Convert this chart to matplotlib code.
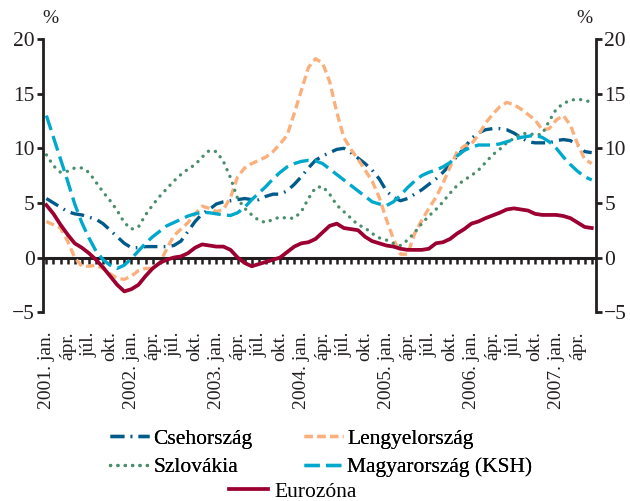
import matplotlib.pyplot as plt

plt.rcParams['font.family'] = ['Liberation Serif', 'DejaVu Serif']
plt.rcParams['lines.scale_dashes'] = False

# monthly data, 2001 jan .. 2007 jun
cseh = [5.4, 5.0, 4.6, 4.2, 4.0, 3.9, 3.7, 3.5, 3.1, 2.5, 1.9, 1.3,
        0.9, 0.9, 1.0, 1.0, 1.0, 1.0, 1.1, 1.5, 2.4, 3.3, 4.0, 4.4,
        4.9, 5.1, 5.2, 5.3, 5.4, 5.3, 5.3, 5.6, 5.8, 5.8, 6.1, 6.7,
        7.4, 8.2, 8.9, 9.3, 9.6, 9.9, 10.0, 9.6, 9.1, 8.6, 8.0, 7.2,
        6.1, 5.5, 5.2, 5.4, 5.8, 6.2, 6.7, 7.2, 7.8, 8.5, 9.3, 10.0,
        10.9, 11.4, 11.7, 11.8, 11.8, 11.7, 11.4, 11.0, 10.6, 10.5, 10.5, 10.5,
        10.7, 10.8, 10.7, 10.3, 9.7, 9.6]
lengyel = [3.3, 3.0, 2.7, 1.5, 0.0, -0.8, -0.8, -0.7, -1.0, -1.5, -1.9, -2.0,
           -1.7, -1.2, -1.0, -1.0, -0.5, 0.8, 2.0, 2.6, 3.2, 4.0, 4.7, 4.5,
           4.2, 4.4, 5.5, 7.4, 8.2, 8.6, 8.9, 9.2, 9.7, 10.4, 11.2, 13.2,
           15.3, 17.4, 18.2, 17.8, 16.1, 13.3, 11.0, 9.9, 9.0, 8.0, 7.0, 5.5,
           3.5, 1.7, 0.3, 0.3, 2.2, 3.4, 4.5, 5.5, 6.8, 8.3, 9.7, 10.2,
           10.4, 11.2, 12.3, 13.1, 13.8, 14.2, 14.0, 13.6, 13.1, 12.6, 11.7, 11.8,
           12.6, 13.0, 12.1, 10.4, 9.0, 8.6]
szlovak = [9.4, 8.4, 7.8, 7.9, 8.2, 8.2, 7.8, 6.9, 6.0, 5.2, 4.3, 3.2,
           2.6, 2.8, 3.9, 4.8, 5.6, 6.3, 7.0, 7.6, 8.1, 8.5, 9.2, 9.8,
           9.7, 8.8, 7.3, 5.4, 4.5, 3.9, 3.4, 3.2, 3.5, 3.7, 3.6, 3.6,
           4.2, 5.4, 6.4, 6.5, 5.8, 4.8, 4.2, 3.6, 3.0, 2.7, 2.2, 1.8,
           1.6, 1.3, 1.1, 1.6, 2.3, 3.1, 3.8, 4.4, 5.1, 5.9, 6.6, 7.1,
           7.5, 8.0, 8.7, 9.4, 9.9, 10.5, 10.9, 11.3, 11.4, 11.2, 11.3, 12.5,
           13.6, 14.1, 14.4, 14.5, 14.4, 14.2]
magyar = [13.0, 11.0, 9.0, 7.0, 4.9, 3.2, 1.8, 0.6, -0.2, -0.7, -1.0, -0.7,
          -0.1, 0.6, 1.3, 1.9, 2.4, 2.9, 3.2, 3.5, 3.8, 4.0, 4.15, 4.1,
          4.0, 3.9, 3.85, 4.1, 4.6, 5.3, 5.9, 6.5, 7.2, 7.8, 8.3, 8.6,
          8.8, 8.9, 8.85, 8.6, 8.1, 7.6, 7.1, 6.6, 6.1, 5.6, 5.1, 4.9,
          4.75, 5.1, 5.7, 6.4, 7.0, 7.5, 7.8, 8.0, 8.3, 8.7, 9.3, 9.8,
          10.1, 10.3, 10.3, 10.3, 10.4, 10.6, 10.8, 11.0, 11.1, 11.2, 11.0, 10.6,
          10.0, 9.2, 8.5, 7.9, 7.4, 7.1]
euro = [4.8, 4.0, 3.0, 2.1, 1.3, 0.9, 0.4, -0.2, -0.9, -1.7, -2.5, -3.1,
        -2.9, -2.5, -1.7, -1.0, -0.5, -0.2, 0.0, 0.1, 0.4, 0.9, 1.2, 1.1,
        1.0, 1.0, 0.7, 0.0, -0.5, -0.8, -0.6, -0.4, -0.2, 0.0, 0.5, 1.0,
        1.3, 1.4, 1.7, 2.3, 2.9, 3.1, 2.7, 2.6, 2.5, 1.9, 1.5, 1.3,
        1.1, 1.0, 0.8, 0.7, 0.7, 0.7, 0.8, 1.3, 1.4, 1.7, 2.2, 2.6,
        3.1, 3.3, 3.6, 3.85, 4.1, 4.4, 4.5, 4.4, 4.3, 4.0, 3.9, 3.9,
        3.9, 3.8, 3.6, 3.2, 2.8, 2.7]

years = ['2001', '2002', '2003', '2004', '2005', '2006', '2007']
month_names = ['jan.', 'ápr.', 'júl.', 'okt.']

x = list(range(len(euro)))
tick_pos = list(range(0, len(euro) - 2, 3))
tick_lab = []
for p in tick_pos:
    m = month_names[(p % 12) // 3]
    if p % 12 == 0:
        m = years[p // 12] + '. ' + m
    tick_lab.append(m)

fig = plt.figure(figsize=(6.3, 5.01), dpi=100)
ax = fig.add_axes([0.068, 0.377, 0.878, 0.545])

lw = 2.4
l1, = ax.plot(x, cseh, color='#005b8a', lw=lw, dashes=(10, 4.5, 1.2, 4.5), label='Csehország')
l2, = ax.plot(x, lengyel, color='#fbb07c', lw=lw, dashes=(6, 3.2), label='Lengyelország')
l3, = ax.plot(x, szlovak, color='#4b8e6d', lw=lw, dashes=(0.1, 5.2), dash_capstyle='round', label='Szlovákia')
l4, = ax.plot(x, magyar, color='#00a9cc', lw=lw, dashes=(11, 4.5), label='Magyarország (KSH)')
l5, = ax.plot(x, euro, color='#9b0031', lw=lw + 0.3, label='Eurozóna')

ax.set_xlim(-0.5, 77.6)
ax.set_ylim(-5, 20)
ax.set_yticks([-5, 0, 5, 10, 15, 20])

for s in ['top', 'bottom']:
    ax.spines[s].set_visible(False)
for s in ['left', 'right']:
    ax.spines[s].set_linewidth(2)
    ax.spines[s].set_color('#231f20')

ax.tick_params(axis='y', left=True, right=True, labelleft=True, labelright=True,
               direction='out', length=4, width=2, color='#231f20',
               labelsize=15.5, labelcolor='#231f20', pad=2)
ax.set_xticks(tick_pos)
ax.set_xticklabels(tick_lab, rotation=90, fontsize=14, color='#231f20')
ax.tick_params(axis='x', length=0, pad=14)

# zero line with monthly ticks
zax = ax.secondary_xaxis(0.2)
zax.spines['bottom'].set_linewidth(2.2)
zax.spines['bottom'].set_color('#231f20')
zax.set_xticks(x)
zax.set_xticklabels([])
zax.tick_params(axis='x', direction='out', length=4, width=1.8, color='#231f20')

ax.text(0.0, 1.06, '%', transform=ax.transAxes, fontsize=14, color='#231f20')
ax.text(0.964, 1.06, '%', transform=ax.transAxes, fontsize=14, color='#231f20')

leg1 = fig.legend([l1, l3, l2, l4], ['Csehország', 'Szlovákia', 'Lengyelország', 'Magyarország (KSH)'],
                  ncol=2, loc='upper center', bbox_to_anchor=(0.51, 0.166), frameon=False,
                  fontsize=15.5, handlelength=1.8, columnspacing=2.4, labelspacing=0.4,
                  handletextpad=0.2, borderpad=0)
leg2 = fig.legend([l5], ['Eurozóna'], loc='upper center', bbox_to_anchor=(0.465, 0.06),
                  frameon=False, fontsize=15.5, handlelength=1.8, handletextpad=0.3, borderpad=0)
fig.add_artist(leg1)

fig.savefig('out.png', dpi=100)
